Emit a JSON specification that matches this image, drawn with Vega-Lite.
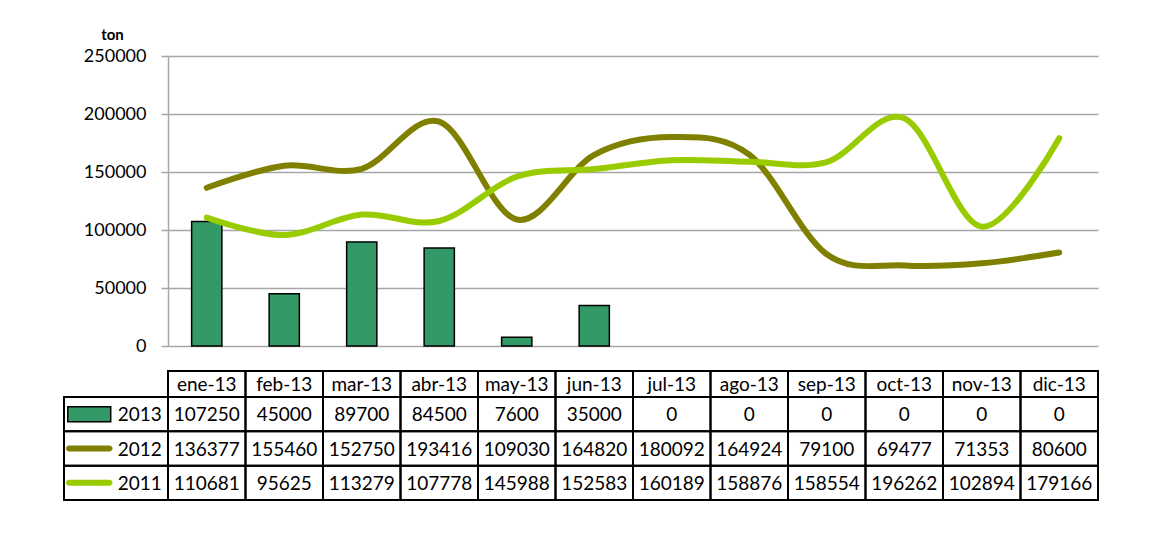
{
  "$schema": "https://vega.github.io/schema/vega-lite/v6.json",
  "autosize": {"type": "none"},
  "padding": {"left": 168, "top": 56, "right": 61, "bottom": 187},
  "width": 930,
  "height": 290,
  "background": "white",
  "config": {
    "view": {"stroke": null},
    "font": "Lato",
    "text": {"font": "Lato", "fontSize": 19, "color": "black"}
  },
  "datasets": {
    "d": [
      {"month": "ene-13", "series": "2013", "value": 107250},
      {"month": "feb-13", "series": "2013", "value": 45000},
      {"month": "mar-13", "series": "2013", "value": 89700},
      {"month": "abr-13", "series": "2013", "value": 84500},
      {"month": "may-13", "series": "2013", "value": 7600},
      {"month": "jun-13", "series": "2013", "value": 35000},
      {"month": "jul-13", "series": "2013", "value": 0},
      {"month": "ago-13", "series": "2013", "value": 0},
      {"month": "sep-13", "series": "2013", "value": 0},
      {"month": "oct-13", "series": "2013", "value": 0},
      {"month": "nov-13", "series": "2013", "value": 0},
      {"month": "dic-13", "series": "2013", "value": 0},
      {"month": "ene-13", "series": "2012", "value": 136377},
      {"month": "feb-13", "series": "2012", "value": 155460},
      {"month": "mar-13", "series": "2012", "value": 152750},
      {"month": "abr-13", "series": "2012", "value": 193416},
      {"month": "may-13", "series": "2012", "value": 109030},
      {"month": "jun-13", "series": "2012", "value": 164820},
      {"month": "jul-13", "series": "2012", "value": 180092},
      {"month": "ago-13", "series": "2012", "value": 164924},
      {"month": "sep-13", "series": "2012", "value": 79100},
      {"month": "oct-13", "series": "2012", "value": 69477},
      {"month": "nov-13", "series": "2012", "value": 71353},
      {"month": "dic-13", "series": "2012", "value": 80600},
      {"month": "ene-13", "series": "2011", "value": 110681},
      {"month": "feb-13", "series": "2011", "value": 95625},
      {"month": "mar-13", "series": "2011", "value": 113279},
      {"month": "abr-13", "series": "2011", "value": 107778},
      {"month": "may-13", "series": "2011", "value": 145988},
      {"month": "jun-13", "series": "2011", "value": 152583},
      {"month": "jul-13", "series": "2011", "value": 160189},
      {"month": "ago-13", "series": "2011", "value": 158876},
      {"month": "sep-13", "series": "2011", "value": 158554},
      {"month": "oct-13", "series": "2011", "value": 196262},
      {"month": "nov-13", "series": "2011", "value": 102894},
      {"month": "dic-13", "series": "2011", "value": 179166}
    ],
    "s": [{"series": "2013"}, {"series": "2012"}, {"series": "2011"}]
  },
  "resolve": {"scale": {"x": "independent", "y": "independent", "color": "shared"}, "axis": {"x": "independent", "y": "independent"}},
  "layer": [
    {
      "data": {"name": "d"},
      "transform": [{"filter": "datum.series == '2013' && datum.value > 0"}],
      "mark": {"type": "bar", "width": {"band": 0.39}, "stroke": "black", "strokeWidth": 1.5},
      "encoding": {
        "x": {"field": "month", "type": "nominal", "axis": null,
              "scale": {"domain": ["ene-13","feb-13","mar-13","abr-13","may-13","jun-13","jul-13","ago-13","sep-13","oct-13","nov-13","dic-13"], "paddingInner": 0, "paddingOuter": 0}},
        "y": {"field": "value", "type": "quantitative",
              "scale": {"domain": [0, 250000], "nice": false},
              "axis": {"values": [0, 50000, 100000, 150000, 200000, 250000], "format": "d",
                       "grid": true, "gridColor": "#a6a6a6", "gridWidth": 1.5,
                       "domainColor": "#a6a6a6", "domainWidth": 1.5,
                       "tickColor": "#a6a6a6", "tickWidth": 1.5, "tickSize": 7,
                       "labelFont": "Lato", "labelFontSize": 18, "labelColor": "black", "labelPadding": 15,
                       "title": "ton", "titleAngle": 0, "titleX": -56, "titleY": -17,
                       "titleAlign": "center", "titleBaseline": "alphabetic",
                       "titleFont": "Lato", "titleFontSize": 15, "titleFontWeight": "bold", "titleColor": "black"}},
        "color": {"field": "series", "type": "nominal", "legend": null,
                  "scale": {"domain": ["2013", "2012", "2011"], "range": ["#339966", "#808000", "#99cc00"]}}
      }
    },
    {
      "data": {"name": "d"},
      "transform": [{"filter": "datum.series != '2013'"}],
      "mark": {"type": "line", "interpolate": "cardinal", "tension": 0, "strokeWidth": 6, "strokeCap": "round"},
      "encoding": {
        "x": {"field": "month", "type": "nominal", "axis": null,
              "scale": {"domain": ["ene-13","feb-13","mar-13","abr-13","may-13","jun-13","jul-13","ago-13","sep-13","oct-13","nov-13","dic-13"], "paddingInner": 0, "paddingOuter": 0}},
        "y": {"field": "value", "type": "quantitative", "axis": null,
              "scale": {"domain": [0, 250000], "nice": false}},
        "color": {"field": "series", "type": "nominal", "legend": null}
      }
    },
    {
      "data": {"name": "d"},
      "transform": [{"filter": "datum.series == '2013'"}],
      "mark": {"type": "rect", "filled": false, "stroke": "black", "strokeWidth": 2},
      "encoding": {
        "x": {"field": "month", "type": "nominal", "axis": null,
              "scale": {"domain": ["ene-13","feb-13","mar-13","abr-13","may-13","jun-13","jul-13","ago-13","sep-13","oct-13","nov-13","dic-13"], "paddingInner": 0, "paddingOuter": 0}},
        "y": {"datum": "h", "type": "nominal", "axis": null,
              "scale": {"domain": ["h"], "range": [315, 341], "paddingInner": 0, "paddingOuter": 0}}
      }
    },
    {
      "data": {"name": "d"},
      "transform": [{"filter": "datum.series == '2013'"}],
      "mark": {"type": "text", "baseline": "middle", "align": "center", "dy": 1},
      "encoding": {
        "x": {"field": "month", "type": "nominal", "axis": null,
              "scale": {"domain": ["ene-13","feb-13","mar-13","abr-13","may-13","jun-13","jul-13","ago-13","sep-13","oct-13","nov-13","dic-13"], "paddingInner": 0, "paddingOuter": 0}},
        "y": {"datum": "h", "type": "nominal", "axis": null,
              "scale": {"domain": ["h"], "range": [315, 341], "paddingInner": 0, "paddingOuter": 0}},
        "text": {"field": "month", "type": "nominal"}
      }
    },
    {
      "data": {"name": "d"},
      "mark": {"type": "rect", "filled": false, "stroke": "black", "strokeWidth": 2},
      "encoding": {
        "x": {"field": "month", "type": "nominal", "axis": null,
              "scale": {"domain": ["ene-13","feb-13","mar-13","abr-13","may-13","jun-13","jul-13","ago-13","sep-13","oct-13","nov-13","dic-13"], "paddingInner": 0, "paddingOuter": 0}},
        "y": {"field": "series", "type": "nominal", "axis": null,
              "scale": {"domain": ["2013", "2012", "2011"], "range": [341, 444], "paddingInner": 0, "paddingOuter": 0}}
      }
    },
    {
      "data": {"name": "d"},
      "mark": {"type": "text", "baseline": "middle", "align": "center", "dy": 1},
      "encoding": {
        "x": {"field": "month", "type": "nominal", "axis": null,
              "scale": {"domain": ["ene-13","feb-13","mar-13","abr-13","may-13","jun-13","jul-13","ago-13","sep-13","oct-13","nov-13","dic-13"], "paddingInner": 0, "paddingOuter": 0}},
        "y": {"field": "series", "type": "nominal", "axis": null,
              "scale": {"domain": ["2013", "2012", "2011"], "range": [341, 444], "paddingInner": 0, "paddingOuter": 0}},
        "text": {"field": "value", "type": "nominal"}
      }
    },
    {
      "data": {"name": "s"},
      "mark": {"type": "rect", "filled": false, "stroke": "black", "strokeWidth": 2},
      "encoding": {
        "x": {"datum": "key", "type": "nominal", "axis": null,
              "scale": {"domain": ["key"], "range": [-104, 0], "paddingInner": 0, "paddingOuter": 0}},
        "y": {"field": "series", "type": "nominal", "axis": null,
              "scale": {"domain": ["2013", "2012", "2011"], "range": [341, 444], "paddingInner": 0, "paddingOuter": 0}}
      }
    },
    {
      "data": {"name": "s"},
      "transform": [{"filter": "datum.series == '2013'"}],
      "mark": {"type": "bar", "width": {"band": 0.85}, "height": 15, "stroke": "black", "strokeWidth": 1.5},
      "encoding": {
        "x": {"datum": "sym", "type": "nominal", "axis": null,
              "scale": {"domain": ["sym", "lab"], "range": [-104, -3], "paddingInner": 0, "paddingOuter": 0}},
        "y": {"field": "series", "type": "nominal", "axis": null,
              "scale": {"domain": ["2013", "2012", "2011"], "range": [341, 444], "paddingInner": 0, "paddingOuter": 0}},
        "color": {"field": "series", "type": "nominal", "legend": null}
      }
    },
    {
      "data": {"name": "s"},
      "transform": [{"filter": "datum.series != '2013'"}],
      "mark": {"type": "bar", "width": {"band": 0.92}, "height": 6, "cornerRadius": 3},
      "encoding": {
        "x": {"datum": "sym", "type": "nominal", "axis": null,
              "scale": {"domain": ["sym", "lab"], "range": [-104, -3], "paddingInner": 0, "paddingOuter": 0}},
        "y": {"field": "series", "type": "nominal", "axis": null,
              "scale": {"domain": ["2013", "2012", "2011"], "range": [341, 444], "paddingInner": 0, "paddingOuter": 0}},
        "color": {"field": "series", "type": "nominal", "legend": null}
      }
    },
    {
      "data": {"name": "s"},
      "mark": {"type": "text", "baseline": "middle", "align": "center", "dy": 1},
      "encoding": {
        "x": {"datum": "lab", "type": "nominal", "axis": null,
              "scale": {"domain": ["sym", "lab"], "range": [-104, -3], "paddingInner": 0, "paddingOuter": 0}},
        "y": {"field": "series", "type": "nominal", "axis": null,
              "scale": {"domain": ["2013", "2012", "2011"], "range": [341, 444], "paddingInner": 0, "paddingOuter": 0}},
        "text": {"field": "series", "type": "nominal"}
      }
    }
  ]
}
